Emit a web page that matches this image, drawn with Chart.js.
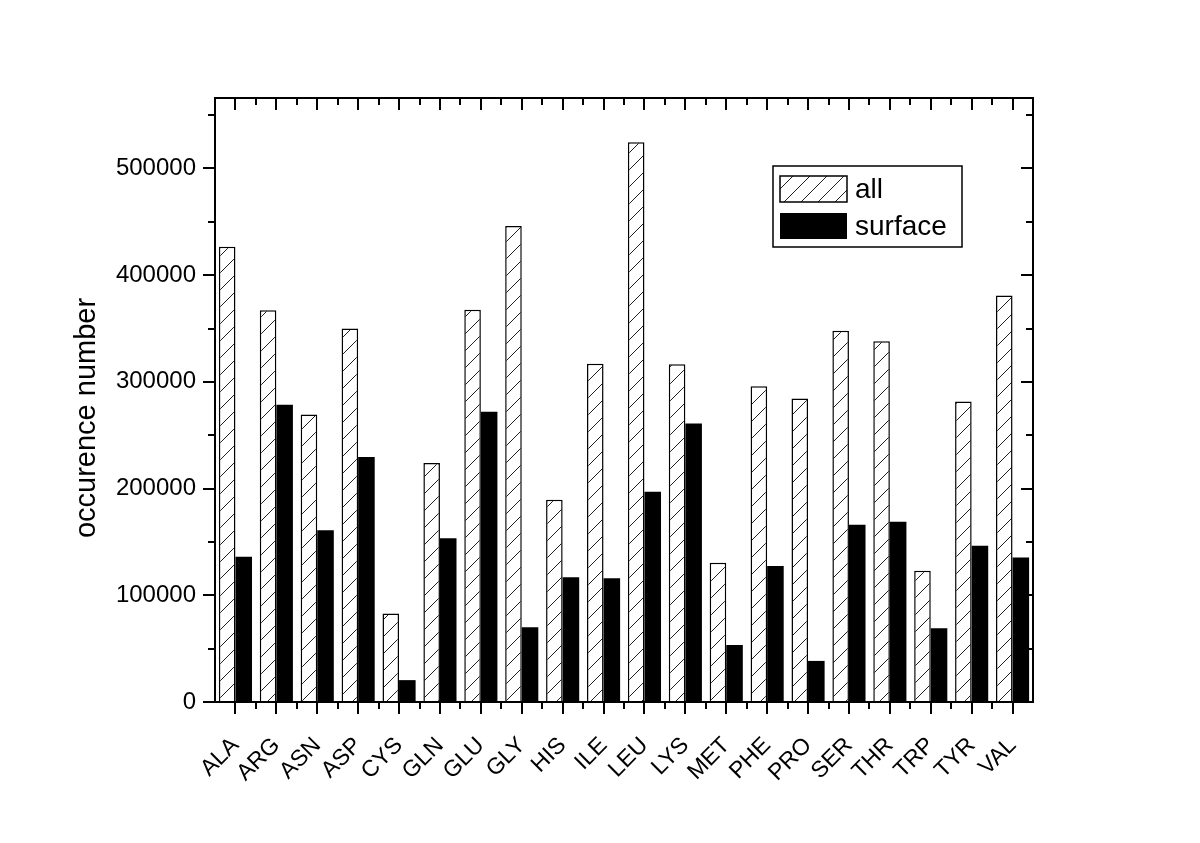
<!DOCTYPE html>
<html>
<head>
<meta charset="utf-8">
<script src="https://cdn.jsdelivr.net/npm/chart.js@4.4.1/dist/chart.umd.min.js"></script>
<style>
html, body { margin: 0; padding: 0; background: #fff; }
#c { display: block; }
</style>
</head>
<body>
<canvas id="c" width="1200" height="843"></canvas>
<script>
// residue names on the x axis
const residues = ['ALA', 'ARG', 'ASN', 'ASP', 'CYS', 'GLN', 'GLU', 'GLY', 'HIS', 'ILE',
                  'LEU', 'LYS', 'MET', 'PHE', 'PRO', 'SER', 'THR', 'TRP', 'TYR', 'VAL'];

// occurrences
const allCounts = [426500, 367000, 269500, 350000, 83000, 224000, 367500, 446000, 189500, 317000,
                   524500, 316500, 130500, 296000, 284500, 348000, 338000, 123000, 281500, 381000];
const surfaceCounts = [136000, 278500, 161000, 229500, 20500, 153500, 272000, 70000, 117000, 116000,
                       197000, 261000, 53500, 127500, 38500, 166000, 169000, 69000, 146500, 135500];

const seriesNames = ['all', 'surface'];
const yTitle = 'occurence number';
const yTicks = [0, 100000, 200000, 300000, 400000, 500000];
const yMax = 566000;
const yStep = 100000;
const yMinorStep = 50000;

const FONT = '"Liberation Sans", Arial, sans-serif';

function makeHatch() {
    var s = 17;
    var c = document.createElement('canvas');
    c.width = s;
    c.height = s;
    var g = c.getContext('2d');
    g.fillStyle = '#fff';
    g.fillRect(0, 0, s, s);
    g.strokeStyle = '#222';
    g.lineWidth = 1;
    g.beginPath();
    g.moveTo(0, s); g.lineTo(s, 0);
    g.moveTo(-2, 2); g.lineTo(2, -2);
    g.moveTo(s - 2, s + 2); g.lineTo(s + 2, s - 2);
    g.stroke();
    return g.createPattern(c, 'repeat');
}

const hatch = makeHatch();

// frame, ticks, axis title and legend are drawn by hand like the original plot
const framePlugin = {
    id: 'frame',
    afterDraw: function (chart) {
        const ctx = chart.ctx;
        const a = chart.chartArea;
        const x = chart.scales.x;
        const y = chart.scales.y;
        ctx.save();
        ctx.strokeStyle = '#000';
        ctx.lineWidth = 2;
        ctx.strokeRect(a.left, a.top, a.right - a.left, a.bottom - a.top);

        ctx.beginPath();
        for (let v = 0; v <= yMax; v += yMinorStep) {
            const py = Math.round(y.getPixelForValue(v));
            const len = v % yStep === 0 ? 12 : 7;
            ctx.moveTo(a.left - len, py); ctx.lineTo(a.left, py);
            ctx.moveTo(a.right - len, py); ctx.lineTo(a.right, py);
        }
        for (let i = 0; i < residues.length; i++) {
            const px = Math.round(x.getPixelForValue(i));
            ctx.moveTo(px, a.bottom); ctx.lineTo(px, a.bottom + 12);
            ctx.moveTo(px, a.top); ctx.lineTo(px, a.top + 12);
            if (i > 0) {
                const pb = Math.round(x.getPixelForValue(i - 0.5));
                ctx.moveTo(pb, a.bottom); ctx.lineTo(pb, a.bottom + 7);
                ctx.moveTo(pb, a.top); ctx.lineTo(pb, a.top + 7);
            }
        }
        ctx.stroke();

        // y title
        ctx.save();
        ctx.translate(87, 418);
        ctx.rotate(-Math.PI / 2);
        ctx.fillStyle = '#000';
        ctx.font = '29px ' + FONT;
        ctx.textAlign = 'center';
        ctx.textBaseline = 'middle';
        ctx.fillText(yTitle, 0, 0);
        ctx.restore();

        // legend
        ctx.lineWidth = 1.5;
        ctx.strokeRect(773, 166, 189, 81);
        const ds = chart.data.datasets;
        const rows = [176, 213];
        ctx.font = '28px ' + FONT;
        ctx.textAlign = 'left';
        ctx.textBaseline = 'middle';
        for (let i = 0; i < ds.length; i++) {
            ctx.fillStyle = ds[i].backgroundColor;
            ctx.fillRect(780, rows[i], 67, 26);
            if (ds[i].borderWidth) {
                ctx.strokeStyle = '#000';
                ctx.strokeRect(780, rows[i], 67, 26);
            }
            ctx.fillStyle = '#000';
            ctx.fillText(ds[i].label, 855, rows[i] + 14);
        }
        ctx.restore();
    }
};

const chart = new Chart(document.getElementById('c'), {
    type: 'bar',
    plugins: [framePlugin],
    data: {
        labels: residues,
        datasets: [
            {
                label: seriesNames[0],
                data: allCounts,
                backgroundColor: hatch,
                borderColor: '#000',
                borderWidth: 1.5,
                categoryPercentage: 0.81,
                barPercentage: 1.0
            },
            {
                label: seriesNames[1],
                data: surfaceCounts,
                backgroundColor: '#000',
                borderWidth: 0,
                categoryPercentage: 0.81,
                barPercentage: 1.0
            }
        ]
    },
    options: {
        responsive: false,
        animation: false,
        devicePixelRatio: 1,
        layout: { padding: { top: 98, right: 167, bottom: 0, left: 0 } },
        plugins: {
            legend: { display: false },
            tooltip: { enabled: false }
        },
        scales: {
            x: {
                grid: { display: false, drawTicks: false },
                border: { display: false },
                ticks: {
                    color: '#000',
                    font: { family: FONT, size: 23 },
                    maxRotation: 45,
                    minRotation: 45,
                    padding: 30,
                    autoSkip: false
                },
                afterFit: function (scale) { scale.height = 141; }
            },
            y: {
                min: 0,
                max: yMax,
                grid: { display: false, drawTicks: false },
                border: { display: false },
                ticks: {
                    color: '#000',
                    font: { family: FONT, size: 24 },
                    padding: 19,
                    autoSkip: false,
                    callback: function (v) { return String(v); }
                },
                afterBuildTicks: function (scale) {
                    scale.ticks = yTicks.map(function (v) { return { value: v }; });
                },
                afterFit: function (scale) { scale.width = 215; }
            }
        }
    }
});
</script>
</body>
</html>
